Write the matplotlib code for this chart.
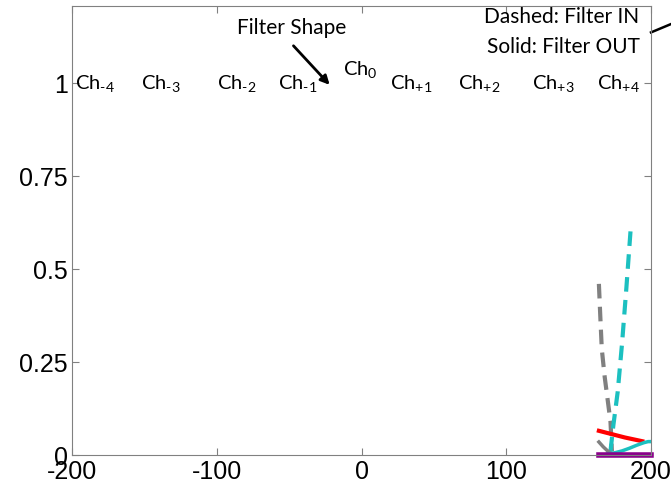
import numpy as np
import matplotlib.pyplot as plt
from matplotlib.lines import Line2D

# channel labels (x position, y position)
ch_names = ['-4', '-3', '-2', '-1', '0', '+1', '+2', '+3', '+4']
ch_x = [-198, -152, -100, -58, -13, 20, 67, 118, 163]
ch_y = [1.0, 1.0, 1.0, 1.0, 1.04, 1.0, 1.0, 1.0, 1.0]

# dashed = filter in
gray_in_x = [164, 165, 166, 168, 170, 172, 173]
gray_in_y = [0.46, 0.37, 0.285, 0.21, 0.15, 0.09, 0.01]
cyan_in_x = [172, 174, 177, 180, 183, 186]
cyan_in_y = [0.01, 0.08, 0.17, 0.30, 0.45, 0.61]

# solid = filter out
red_out_x = [164, 170, 176, 182, 188, 194]
red_out_y = [0.065, 0.059, 0.053, 0.047, 0.042, 0.037]
cyan_out_x = [170, 175, 180, 185, 190, 195, 198, 200]
cyan_out_y = [0.003, 0.006, 0.011, 0.018, 0.026, 0.033, 0.036, 0.036]
gray_out_x = [164, 167, 170, 173, 175]
gray_out_y = [0.035, 0.022, 0.011, 0.004, 0.002]
purple_out_x = [164, 200]
purple_out_y = [0.0, 0.0]

plt.rcParams['mathtext.fontset'] = 'custom'
plt.rcParams['mathtext.rm'] = 'Lato'
plt.rcParams['mathtext.it'] = 'Lato'
plt.rcParams['axes.unicode_minus'] = False

fig = plt.figure(figsize=(6.71, 4.89), dpi=100)
ax = fig.add_axes([0.1073, 0.0675, 0.8629, 0.9182])

ax.plot(gray_in_x, gray_in_y, color='#808080', lw=3, ls=(0, (3.5, 2)))
ax.plot(cyan_in_x, cyan_in_y, color='#1cc0c0', lw=3, ls=(0, (3.5, 2)))
ax.plot(gray_out_x, gray_out_y, color='#808080', lw=2.5)
ax.plot(red_out_x, red_out_y, color='red', lw=3)
ax.plot(cyan_out_x, cyan_out_y, color='#1cc0c0', lw=2.5)
ax.plot(purple_out_x, purple_out_y, color='#8b008b', lw=4, clip_on=False)

for name, x, y in zip(ch_names, ch_x, ch_y):
    sub = name.replace('-', '\u2010')
    ax.text(x, y, r'$\mathrm{Ch}_{\mathrm{' + sub + '}}$', fontsize=14.5, ha='left', va='center')

ax.text(-48, 1.15, 'Filter Shape', fontsize=15, family='Lato', ha='center', va='center')
ax.annotate('', xy=(-22, 0.995), xytext=(-47, 1.10),
            arrowprops=dict(arrowstyle='-|>', color='black', lw=2, mutation_scale=13,
                            shrinkA=0, shrinkB=0))

ax.text(192, 1.18, 'Dashed: Filter IN', fontsize=15, family='Lato', ha='right', va='center')
ax.text(192, 1.10, 'Solid: Filter OUT', fontsize=15, family='Lato', ha='right', va='center')
ax.add_line(Line2D([200, 216], [1.136, 1.162], color='black', lw=1.8, clip_on=False))

ax.set_xlim(-200, 200)
ax.set_ylim(0, 1.207)
ax.set_xticks([-200, -100, 0, 100, 200])
ax.set_yticks([0, 0.25, 0.5, 0.75, 1])
ax.set_yticklabels(['0', '0.25', '0.5', '0.75', '1'])
ax.tick_params(direction='in', top=True, right=True, length=5, color='#808080',
               labelsize=18, pad=3)
for lab in ax.get_xticklabels() + ax.get_yticklabels():
    lab.set_family(['Liberation Sans Narrow', 'Liberation Sans'])
for s in ax.spines.values():
    s.set_color('#808080')

fig.savefig('out.png', dpi=100)
